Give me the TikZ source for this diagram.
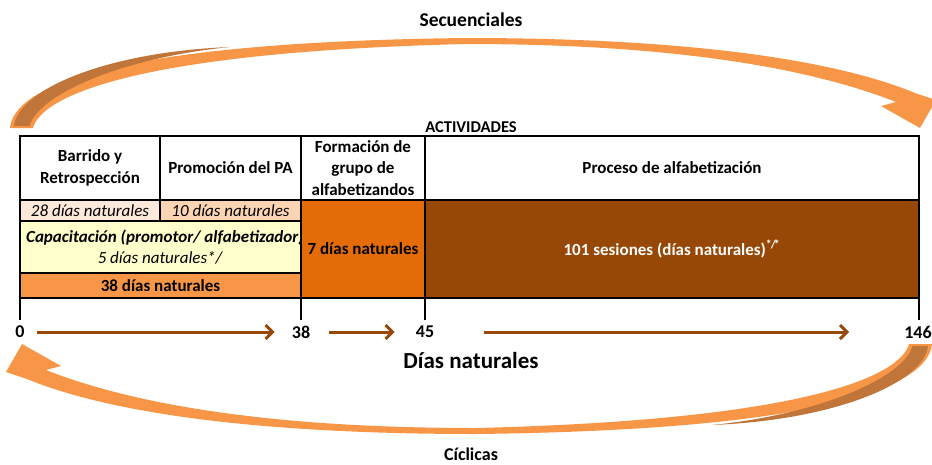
\documentclass[tikz,border=0pt]{standalone}
\usepackage{fontspec}
\setmainfont{Carlito}
\usetikzlibrary{arrows.meta}
\definecolor{orangeA}{HTML}{F79646}
\definecolor{tailD}{HTML}{C0763A}
\definecolor{brownA}{HTML}{984807}
\definecolor{peachL}{HTML}{FDE9D9}
\definecolor{peachM}{HTML}{FBD4B4}
\definecolor{yellowL}{HTML}{FFFFCC}
\definecolor{orangeD}{HTML}{E36C09}
\definecolor{brownD}{HTML}{974806}
\newcommand{\curvedarrowshape}{%
  \fill[orangeA] (10,128) .. controls (14,85) and (120,42) .. (466,38)
     .. controls (700,38) and (840,62) .. (915,93) -- (936,100) -- (920,128) -- (881,106) -- (896,102)
     .. controls (820,72) and (690,44) .. (466,44)
     .. controls (140,52) and (42,95) .. (33,128) -- cycle;
  \fill[tailD] (14,126) .. controls (18,90) and (105,52) .. (230,47)
     .. controls (120,58) and (38,95) .. (29.5,126) -- cycle;}
\begin{document}
\begin{tikzpicture}[x=1pt,y=-1pt,
  cell/.style={draw=black,line width=1.6pt,inner sep=0pt,outer sep=0pt,align=center,
    font=\fontsize{17}{21.5}\selectfont\bfseries},
  dayit/.style={cell,font=\fontsize{17}{20}\selectfont\itshape},
  numlbl/.style={font=\fontsize{18}{20}\selectfont\bfseries,inner sep=0pt},
  title/.style={font=\fontsize{19.5}{21}\selectfont\bfseries,inner sep=0pt},
  axarrow/.style={draw=brownA,line width=3pt,-{Straight Barb[length=7pt,width=14pt,line width=3pt]}},
  tick/.style={draw=black,line width=1.6pt}]
\useasboundingbox (0,0) rectangle (932,464);

% curved arrows
\curvedarrowshape
\begin{scope}[rotate around={180:(471,236)}]
\curvedarrowshape
\end{scope}

\node[title] (sec) at (471,20) {Secuenciales};
\node[font=\fontsize{18}{20}\selectfont\bfseries,inner sep=0pt] (cic) at (471,454) {Cíclicas};
\node[font=\fontsize{16.5}{18}\selectfont\bfseries,inner sep=0pt] (act) at (471,127) {ACTIVIDADES};

% header row
\node[cell,minimum width=140pt,minimum height=64pt] (h1) at (90,168) {Barrido y\\Retrospección};
\node[cell,minimum width=141pt,minimum height=64pt] (h2) at (230.5,168) {Promoción del PA};
\node[cell,minimum width=124pt,minimum height=64pt] (h3) at (363,168) {Formación de\\grupo de\\alfabetizandos};
\node[cell,minimum width=494pt,minimum height=64pt] (h4) at (672,168) {Proceso de alfabetización};

% body
\node[dayit,fill=peachL,minimum width=140pt,minimum height=21pt] (d1) at (90,210.5) {28 días naturales};
\node[dayit,fill=peachM,minimum width=141pt,minimum height=21pt] (d2) at (230.5,210.5) {10 días naturales};
\node[cell,fill=yellowL,minimum width=281pt,minimum height=52pt] (cap) at (160.5,247) {};
\begin{scope}
\clip (20,221) rectangle (300,273);
\node[inner sep=0pt,anchor=west,font=\fontsize{17}{18}\selectfont\bfseries\itshape] (capt) at (26,237.5) {Capacitación (promotor/ alfabetizador)};
\end{scope}
\node[inner sep=0pt,font=\fontsize{17}{18}\selectfont\itshape] (capd) at (160,257.5) {5 días naturales*/};
\node[cell,fill=orangeA,minimum width=281pt,minimum height=25pt] (t38) at (160.5,285.5) {38 días naturales};
\node[cell,fill=orangeD,minimum width=124pt,minimum height=98pt] (d7) at (363,249) {7 días naturales};
\node[cell,fill=brownD,text=white,minimum width=494pt,minimum height=98pt] (d101) at (672,249) {101 sesiones (días naturales)\textsuperscript{*\kern-1pt/\kern-2pt*}};

% ticks
\draw[tick] (t38.south west) -- ++(0,22);
\draw[tick] (d7.south west) -- ++(0,22);
\draw[tick] (d7.south east) -- ++(0,22);
\draw[tick] (d101.south east) -- ++(0,22);

% axis labels
\node[numlbl] (n0) at (20,332) {0};
\node[numlbl] (n38) at (301,332) {38};
\node[numlbl] (n45) at (425,332) {45};
\node[numlbl] (n146) at (918,332) {146};
\node[font=\fontsize{23}{25}\selectfont\bfseries,inner sep=0pt] (dn) at (471,361) {Días naturales};

\draw[axarrow] ([xshift=12pt]n0.east) -- ([xshift=-17pt]n38.west);
\draw[axarrow] ([xshift=19pt]n38.east) -- ([xshift=-21pt]n45.west);
\draw[axarrow] ([xshift=50pt]n45.east) -- ([xshift=-55pt]n146.west);
\end{tikzpicture}
\end{document}
